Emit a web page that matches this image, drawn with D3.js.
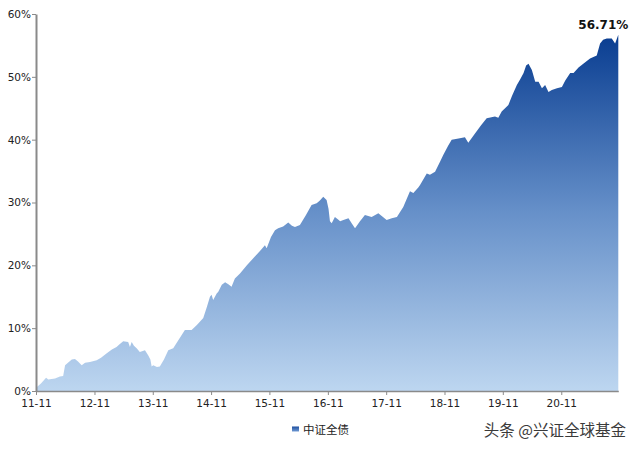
<!DOCTYPE html>
<html>
<head>
<meta charset="utf-8">
<script src="https://cdn.jsdelivr.net/npm/d3@7"></script>
<style>
html,body{margin:0;padding:0;background:#fff;}
svg{display:block;}
</style>
</head>
<body>
<svg id="chart" width="640" height="449"></svg>
<script>
const seriesName = "中证全债";
const endLabel = "56.71%";
const watermark = "头条 @兴证全球基金";
const yTicks = [0, 10, 20, 30, 40, 50, 60];
const xTickDates = ["2011-11-01","2012-11-01","2013-11-01","2014-11-01","2015-11-01","2016-11-01","2017-11-01","2018-11-01","2019-11-01","2020-11-01"];
const dates = [
"2011-11-01","2011-12-02","2012-01-03","2012-01-17","2012-02-28","2012-03-30","2012-04-19","2012-05-01","2012-05-19","2012-06-12",
"2012-07-02","2012-07-21","2012-08-13","2012-09-03","2012-10-04","2012-11-15","2012-12-12","2013-01-17","2013-02-18","2013-03-19",
"2013-04-09","2013-04-30","2013-05-31","2013-06-11","2013-06-22","2013-07-06","2013-07-23","2013-08-12","2013-09-13","2013-10-03",
"2013-10-17","2013-10-25","2013-11-04","2013-11-27","2013-12-15","2014-01-10","2014-02-06","2014-03-09","2014-04-13","2014-05-21",
"2014-07-02","2014-08-04","2014-09-13","2014-10-06","2014-10-25","2014-11-04","2014-11-14","2014-12-06","2014-12-16","2015-01-07",
"2015-01-28","2015-02-17","2015-03-09","2015-03-30","2015-05-01","2015-06-13","2015-08-02","2015-09-03","2015-10-04","2015-10-15",
"2015-11-11","2015-12-06","2015-12-26","2016-01-26","2016-02-27","2016-03-21","2016-04-09","2016-05-10","2016-06-17","2016-07-22",
"2016-08-23","2016-09-12","2016-10-03","2016-10-24","2016-11-05","2016-11-14","2016-11-25","2016-12-15","2017-01-04","2017-01-17",
"2017-02-06","2017-03-10","2017-04-01","2017-04-20","2017-05-21","2017-06-21","2017-08-02","2017-09-13","2017-10-06","2017-11-04",
"2017-12-06","2018-01-07","2018-02-16","2018-03-30","2018-04-20","2018-05-21","2018-06-01","2018-07-13","2018-08-02","2018-09-03",
"2018-10-04","2018-10-25","2018-11-23","2018-12-16","2019-01-28","2019-03-09","2019-03-30","2019-05-11","2019-06-18","2019-07-23",
"2019-09-13","2019-10-04","2019-10-25","2019-12-06","2019-12-29","2020-01-28","2020-02-18","2020-03-10","2020-03-26","2020-04-10",
"2020-04-20","2020-05-01","2020-05-22","2020-06-12","2020-07-03","2020-07-23","2020-08-13","2020-09-03","2020-10-05","2020-11-05",
"2020-11-26","2020-12-27","2021-01-17","2021-02-17","2021-03-25","2021-04-30","2021-06-11","2021-07-02","2021-07-21","2021-08-13",
"2021-09-13","2021-10-04","2021-10-24"
];
const values = [
0.5,1.2,2.1,1.85,2.0,2.3,2.4,4.1,4.5,5.0,
5.1,4.7,4.1,4.5,4.6,4.9,5.3,6.0,6.6,7.0,
7.5,7.9,7.8,7.0,7.8,7.2,6.8,6.2,6.5,5.7,
5.0,3.9,4.1,3.8,3.9,5.0,6.5,6.8,8.2,9.7,
9.7,10.5,11.6,13.4,15.0,15.3,14.5,15.5,15.8,16.9,
17.3,17.0,16.6,17.9,18.7,20.0,21.4,22.3,23.2,22.7,
24.5,25.6,25.9,26.2,26.8,26.3,26.1,26.4,28.0,29.6,
29.9,30.3,30.9,30.4,29.0,27.0,26.7,27.7,27.3,27.0,
27.2,27.5,26.6,25.9,27.0,28.0,27.7,28.3,27.8,27.2,
27.5,27.7,29.3,31.8,31.5,32.4,32.8,34.6,34.4,34.9,
36.5,37.6,39.0,40.0,40.2,40.4,39.5,41.0,42.3,43.4,
43.7,43.5,44.5,45.5,47.0,48.7,49.6,50.6,51.8,52.1,
51.6,51.1,49.2,49.2,48.2,48.7,47.6,47.9,48.2,48.4,
49.4,50.6,50.6,51.5,52.2,52.9,53.4,55.3,55.9,56.1,
56.1,55.3,56.71
];

const parse = d3.timeParse("%Y-%m-%d");
const data = dates.map((d, i) => ({date: parse(d), value: values[i]}));

const svg = d3.select("#chart");
const margin = {left: 36, top: 14, right: 21.7, bottom: 58};
const W = 640, H = 449;
const x = d3.scaleTime()
  .domain([parse(dates[0]), parse(dates[dates.length - 1])])
  .range([margin.left, W - margin.right]);
const y = d3.scaleLinear().domain([0, 60]).range([H - margin.bottom, margin.top]);

const defs = svg.append("defs");
const grad = defs.append("linearGradient").attr("id", "fillGrad")
  .attr("gradientUnits", "userSpaceOnUse")
  .attr("x1", 0).attr("x2", 0)
  .attr("y1", y(57)).attr("y2", y(0));
grad.append("stop").attr("offset", "0%").attr("stop-color", "#083c90");
grad.append("stop").attr("offset", "50%").attr("stop-color", "#6690c9");
grad.append("stop").attr("offset", "100%").attr("stop-color", "#bdd6f0");

const legGrad = defs.append("linearGradient").attr("id", "legGrad")
  .attr("x1", 0).attr("x2", 0).attr("y1", 0).attr("y2", 1);
legGrad.append("stop").attr("offset", "0%").attr("stop-color", "#1f4fa0");
legGrad.append("stop").attr("offset", "100%").attr("stop-color", "#6f9ad4");

const area = d3.area()
  .x(d => x(d.date))
  .y0(y(0))
  .y1(d => y(d.value))
  .curve(d3.curveLinear);

svg.append("path").datum(data)
  .attr("d", area)
  .attr("fill", "url(#fillGrad)");

const font = "'DejaVu Sans', Verdana, sans-serif";

// Y axis
const yAxis = d3.axisLeft(y).tickValues(yTicks).tickFormat(d => d + "%").tickSize(4).tickSizeOuter(0);
const gy = svg.append("g").attr("transform", `translate(${margin.left},0)`).call(yAxis);
gy.select(".domain").attr("stroke", "#8a8a8a").attr("stroke-width", 2);
gy.selectAll(".tick line").attr("stroke", "#8a8a8a");
gy.selectAll(".tick text").attr("font-family", font).attr("font-size", 10.5).attr("fill", "#222").attr("x", -5);

// X axis
const xAxis = d3.axisBottom(x).tickValues(xTickDates.map(parse)).tickFormat(d3.timeFormat("%y-%m")).tickSize(4).tickSizeOuter(0);
const gx = svg.append("g").attr("transform", `translate(0,${y(0)})`).call(xAxis);
gx.select(".domain").attr("stroke", "#8a8a8a").attr("stroke-width", 1.5);
gx.selectAll(".tick line").attr("stroke", "#8a8a8a");
gx.selectAll(".tick text").attr("font-family", font).attr("font-size", 10.5).attr("fill", "#222").attr("dy", "0.9em");

// End label
const last = data[data.length - 1];
svg.append("text")
  .attr("x", x(last.date) + 10)
  .attr("y", y(last.value) - 6)
  .attr("text-anchor", "end")
  .attr("font-family", font)
  .attr("font-weight", "bold")
  .attr("font-size", 12)
  .attr("fill", "#111")
  .text(endLabel);

// Legend
svg.append("rect").attr("x", 292).attr("y", 426.5).attr("width", 7).attr("height", 5).attr("fill", "url(#legGrad)");
svg.append("text").attr("x", 303).attr("y", 434)
  .attr("font-family", "'Noto Sans CJK SC', sans-serif").attr("font-size", 11.5).attr("fill", "#222")
  .text(seriesName);

// Watermark
svg.append("text").attr("x", 626).attr("y", 436)
  .attr("text-anchor", "end")
  .attr("font-family", "'Noto Sans CJK SC', sans-serif").attr("font-size", 15.5)
  .attr("fill", "#3a3a3a")
  .attr("stroke", "#ffffff").attr("stroke-width", 0.6).attr("paint-order", "stroke")
  .text(watermark);
</script>
</body>
</html>
